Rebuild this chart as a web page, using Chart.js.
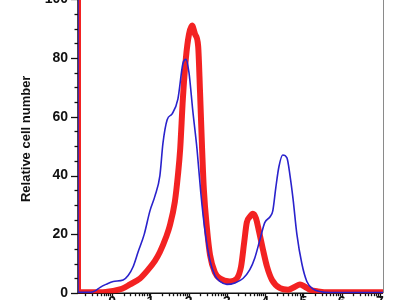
<!DOCTYPE html>
<html><head><meta charset="utf-8">
<script src="https://cdn.jsdelivr.net/npm/chart.js@4"></script>
<style>
html,body{margin:0;padding:0;background:#fff;overflow:hidden;width:400px;height:300px;}
#wrap{position:absolute;left:0;top:-34px;width:400px;height:346px;}
canvas{display:block;}
</style></head><body>
<div id="wrap"><canvas id="c" width="400" height="346" style="width:400px;height:346px"></canvas></div>
<script>
// ---- data (x in log-decade units) ----
const xTickPos = [0, 1, 2, 3, 4, 5, 6, 7];
const xTickLabels = ['0', '1', '2', '3', '4', '5', '6', '7'];
const yTickValues = [0, 20, 40, 60, 80, 100];
const yTitle = 'Relative cell number';

const blueX = [-0.89,-0.89,-0.57,-0.44,-0.31,-0.16,0.03,0.29,0.42,0.55,0.68,0.84,0.99,1.12,1.25,1.33,1.44,1.57,1.72,1.85,1.93,2.01,2.11,2.22,2.32,2.43,2.56,2.69,2.82,3.00,3.21,3.42,3.60,3.73,3.86,3.99,4.13,4.20,4.28,4.36,4.46,4.57,4.65,4.73,4.83,4.96,5.09,5.25,5.43,5.69,7.08];
const blueY = [140,0.3,0.3,0.8,2,3,4,4.5,6,9,14,20,28,33,40,51,59,61,66,78,79.5,75,62,49,34,21,11,6,4,3,3.5,5,8,12,18,24,26,28,36,43,47,46,40,32,20,10,4,1.5,0.6,0.2,0.2];

const redX = [-0.89,-0.89,-0.31,0.03,0.26,0.47,0.73,0.91,1.12,1.25,1.41,1.51,1.64,1.72,1.78,1.85,1.93,2.01,2.09,2.17,2.25,2.30,2.35,2.40,2.48,2.56,2.69,2.82,3.08,3.26,3.37,3.45,3.52,3.60,3.68,3.76,3.84,3.94,4.05,4.18,4.39,4.60,4.78,4.91,5.04,5.17,5.38,5.69,7.08];
const redY = [140,0.3,0.3,0.8,1.5,3,5,7.5,11,14,19,23,31,40,49,66,80,88,91,88,84,68,50,35,22,13,7,5,4,5,9,17,24,26,27,25.5,21,15,9,4.5,1.7,1.2,2.2,3,2.2,1.2,0.6,0.3,0.3];

const X_MIN = -0.89, X_MAX = 7.08;
const Y_MIN = 0, Y_MAX = 105;

const toPts = (xs, ys) => xs.map((x, i) => ({x, y: ys[i]}));

const axisDecor = {
  id: 'axisDecor',
  beforeDatasetsDraw(chart) {
    const {ctx, chartArea: a, scales: {x, y}} = chart;
    ctx.save();
    ctx.strokeStyle = '#8a8a8a'; ctx.lineWidth = 1;
    ctx.beginPath(); ctx.moveTo(a.right + 0.5, a.top); ctx.lineTo(a.right + 0.5, a.bottom); ctx.stroke();
    ctx.strokeStyle = '#111'; ctx.lineWidth = 1.5;
    ctx.beginPath(); ctx.moveTo(a.left, a.top); ctx.lineTo(a.left, a.bottom); ctx.lineTo(a.right, a.bottom); ctx.stroke();
    ctx.lineWidth = 1.3;
    for (let v = 0; v <= 100; v += 5) {
      const py = Math.round(y.getPixelForValue(v)) + 0.5;
      const len = v % 20 === 0 ? 7 : 3.5;
      ctx.beginPath(); ctx.moveTo(a.left - len, py); ctx.lineTo(a.left, py); ctx.stroke();
    }
    for (let d = -1; d <= 7; d++) {
      for (let k = 1; k <= 9; k++) {
        const v = d + Math.log10(k);
        if (v < X_MIN || v > X_MAX) continue;
        const px = Math.round(x.getPixelForValue(v)) + 0.5;
        const len = k === 1 ? 5 : 3;
        ctx.beginPath(); ctx.moveTo(px, a.bottom); ctx.lineTo(px, a.bottom + len); ctx.stroke();
      }
    }
    ctx.restore();
  }
};

new Chart(document.getElementById('c'), {
  type: 'line',
  data: {
    datasets: [
      {label: 'blue', data: toPts(blueX, blueY), borderColor: '#2a22cc', borderWidth: 1.6,
       pointRadius: 0, cubicInterpolationMode: 'monotone', fill: false, order: 0, clip: 0},
      {label: 'red', data: toPts(redX, redY), borderColor: 'rgba(242,22,22,0.95)', borderWidth: 6,
       pointRadius: 0, cubicInterpolationMode: 'monotone', fill: false, order: 1, clip: 0,
       borderJoinStyle: 'round', borderCapStyle: 'round'}
    ]
  },
  options: {
    responsive: false,
    animation: false,
    devicePixelRatio: 1,
    layout: {padding: {top: 10, right: 17, left: 0, bottom: 0}},
    plugins: {legend: {display: false}, tooltip: {enabled: false}},
    scales: {
      x: {
        type: 'linear', min: X_MIN, max: X_MAX,
        grid: {display: false, drawTicks: false},
        border: {display: false},
        afterBuildTicks: s => { s.ticks = xTickPos.map(v => ({value: v})); },
        ticks: {
          autoSkip: false, maxRotation: 0, padding: 1, color: '#111',
          font: {family: 'Liberation Sans, Arial, sans-serif', size: 14, weight: 'bold'},
          callback: (v) => { const i = xTickPos.indexOf(v); return i >= 0 ? xTickLabels[i] : ''; }
        }
      },
      y: {
        type: 'linear', min: Y_MIN, max: Y_MAX,
        grid: {display: false, drawTicks: false},
        border: {display: false},
        afterBuildTicks: s => { s.ticks = yTickValues.map(v => ({value: v})); },
        afterFit: s => { s.width = 78; },
        ticks: {
          padding: 10, color: '#111',
          font: {family: 'Liberation Sans, Arial, sans-serif', size: 14, weight: 'bold'}
        },
        title: {
          display: true, text: yTitle, color: '#111',
          font: {family: 'Liberation Sans, Arial, sans-serif', size: 13, weight: 'bold'},
          padding: {top: 19, bottom: 0}
        }
      }
    }
  },
  plugins: [axisDecor]
});
</script>
</body></html>
